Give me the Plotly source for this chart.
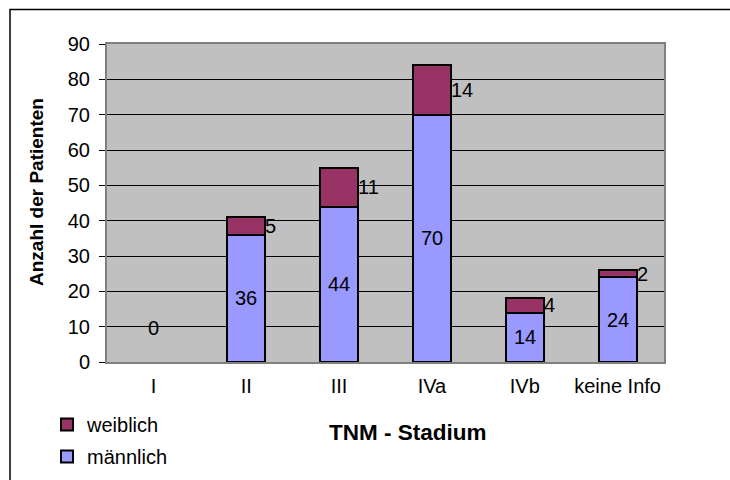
import plotly.graph_objects as go

# Patienten nach TNM-Stadium und Geschlecht
stadien = ["I", "II", "III", "IVa", "IVb", "keine Info"]
maennlich = [0, 36, 44, 70, 14, 24]
weiblich = [0, 5, 11, 14, 4, 2]

FONT = "Liberation Sans, Arial, sans-serif"
BAR_W = 0.41
TXT = 20


def bar_heights(values):
    # empty categories get no bar (and no outline) at all
    return [v if v > 0 else None for v in values]


fig = go.Figure()
fig.add_trace(go.Bar(
    x=stadien, y=bar_heights(maennlich), name="männlich", width=BAR_W,
    marker=dict(color="#9999FF", line=dict(color="black", width=2)),
    legendgroup="m", legendrank=2, hoverinfo="skip",
))
fig.add_trace(go.Bar(
    x=stadien, y=bar_heights(weiblich), name="weiblich", width=BAR_W,
    marker=dict(color="#993366", line=dict(color="black", width=2)),
    legendgroup="w", legendrank=1, hoverinfo="skip",
))

annotations = []
# value labels: male centred in its segment, female right of the bar
for i, (m, w) in enumerate(zip(maennlich, weiblich)):
    annotations.append(dict(
        x=i, y=m / 2, xref="x", yref="y", text=str(m), showarrow=False,
        yshift=34 if m == 0 else 0,
        font=dict(family=FONT, size=TXT, color="black"),
    ))
    if w > 0:
        annotations.append(dict(
            x=i + BAR_W / 2, y=m + w / 2, xref="x", yref="y", text=str(w),
            showarrow=False, xanchor="left", xshift=-2,
            font=dict(family=FONT, size=TXT, color="black"),
        ))

# axis titles
annotations.append(dict(
    x=(36 - 107) / 557, y=(362 - 192) / 318, xref="paper", yref="paper",
    xanchor="center", yanchor="middle",
    text="<b>Anzahl der Patienten</b>", textangle=-90, showarrow=False,
    font=dict(family=FONT, size=19, color="black"),
))
annotations.append(dict(
    x=(408 - 107) / 557, y=(362 - 432) / 318, xref="paper", yref="paper",
    xanchor="center", yanchor="middle",
    text="<b>TNM - Stadium</b>", showarrow=False,
    font=dict(family=FONT, size=22.5, color="black"),
))

fig.update_layout(
    width=730, height=480,
    margin=dict(l=107, r=66, t=44, b=118, autoexpand=False),
    barmode="stack",
    paper_bgcolor="white", plot_bgcolor="#C0C0C0",
    font=dict(family=FONT, size=TXT, color="black"),
    showlegend=True,
    legend=dict(
        x=(47 - 107) / 557, y=(362 - 405) / 318, xanchor="left", yanchor="top",
        traceorder="grouped", tracegroupgap=3,
        font=dict(family=FONT, size=TXT, color="black"),
        bgcolor="rgba(0,0,0,0)",
    ),
    annotations=annotations,
    shapes=[
        # outer chart frame
        dict(type="rect", xref="paper", yref="paper",
             x0=(10 - 107) / 557, x1=1.5, y0=-1.0, y1=(362 - 9.5) / 318,
             line=dict(color="black", width=1.5), layer="below"),
    ],
)

fig.update_xaxes(
    showgrid=False, showline=True, linecolor="#808080", linewidth=2,
    mirror=True, ticks="", ticklabelstandoff=5, zeroline=False,
    tickfont=dict(family=FONT, size=TXT, color="black"),
)
fig.update_yaxes(
    range=[0, 90], dtick=10, showgrid=True, gridcolor="black", gridwidth=1,
    showline=True, linecolor="#808080", linewidth=2, mirror=True,
    ticks="outside", ticklen=6, tickcolor="black", ticklabelstandoff=5,
    zeroline=False, tickfont=dict(family=FONT, size=TXT, color="black"),
)

fig.write_html("out.html")
